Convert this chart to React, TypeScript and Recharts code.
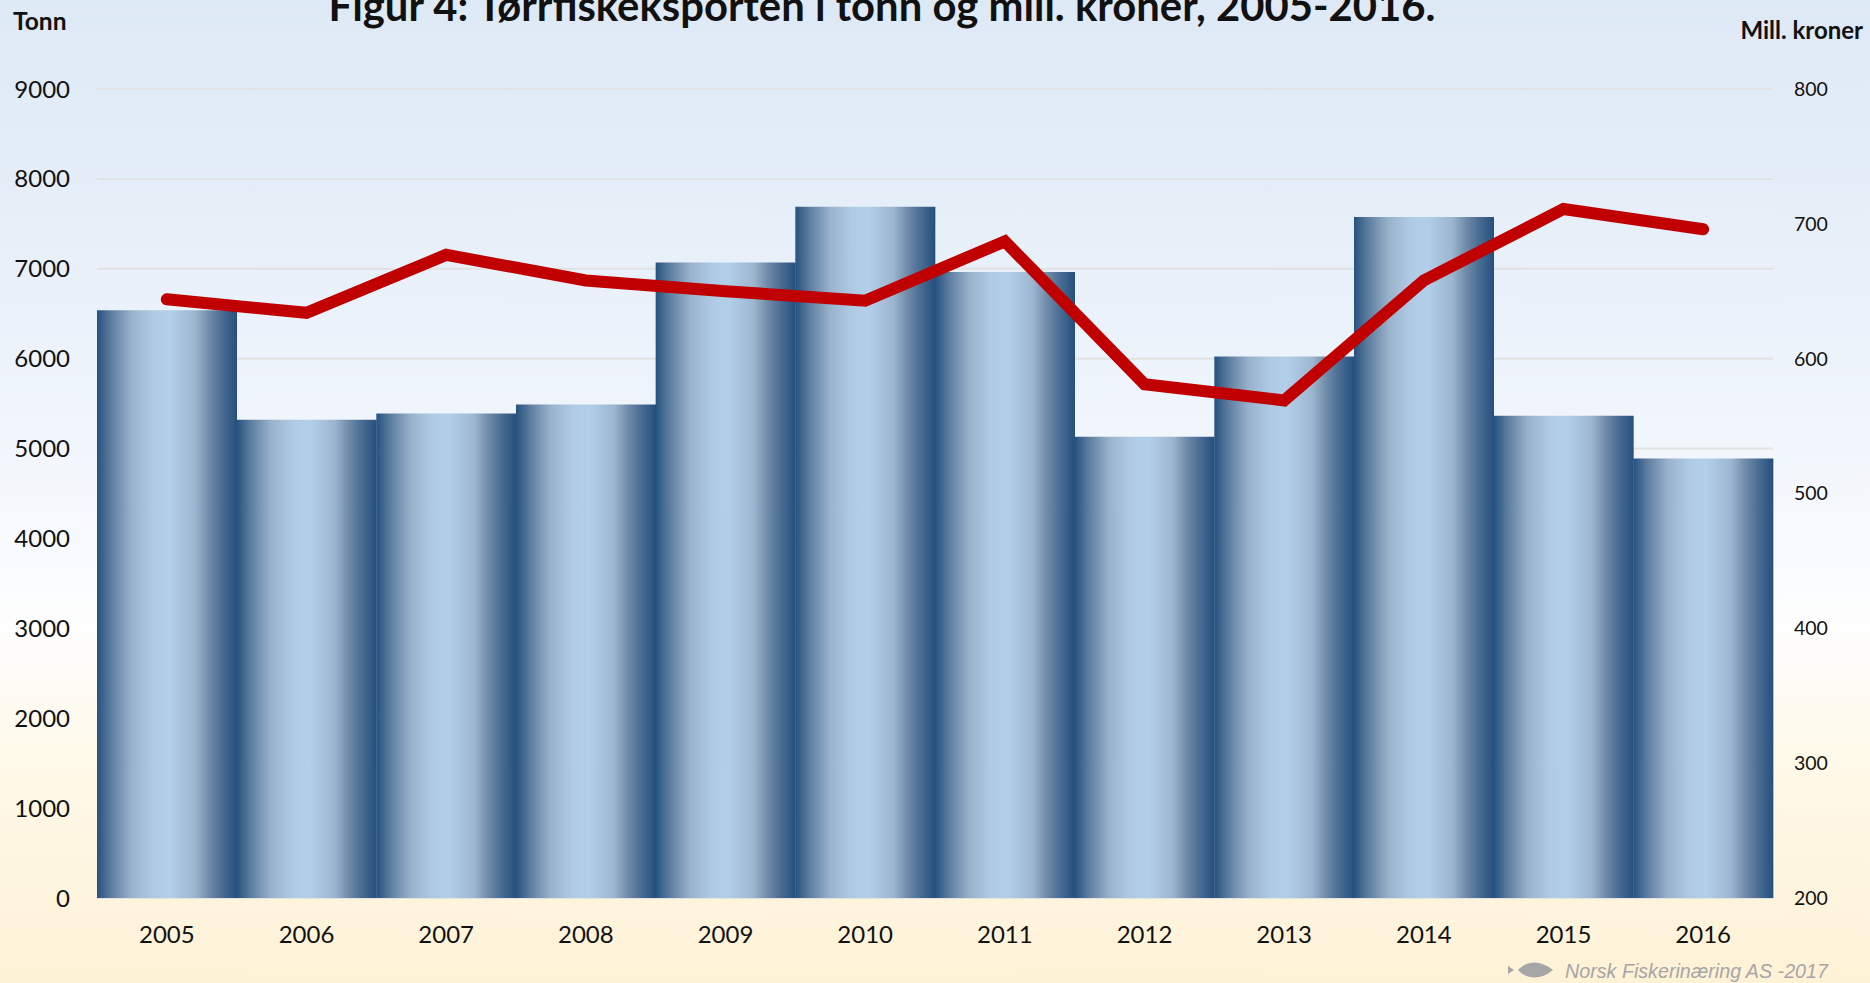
import React from 'react';
import { ComposedChart, Bar, Line, XAxis, YAxis, CartesianGrid } from 'recharts';

const years = ['2005', '2006', '2007', '2008', '2009', '2010', '2011', '2012', '2013', '2014', '2015', '2016'];
const tonn = [6540, 5320, 5390, 5490, 7070, 7690, 6965, 5130, 6025, 7575, 5365, 4890];
const millKroner = [644, 634, 677, 658, 650, 643, 687, 581, 569, 658, 711, 696];
const leftTicks = [0, 1000, 2000, 3000, 4000, 5000, 6000, 7000, 8000, 9000];
const rightTicks = [200, 300, 400, 500, 600, 700, 800];

const data = years.map((year, i) => ({ year, tonn: tonn[i], kroner: millKroner[i] }));

const FONT = 'Lato, sans-serif';

const App: React.FC = () => (
    <div
        style={{
            position: 'absolute',
            left: 0,
            top: 0,
            width: 1870,
            height: 983,
            overflow: 'hidden',
            fontFamily: FONT,
            color: '#111',
            background: 'linear-gradient(to bottom, #dde9f5 0%, #eaf1fa 30%, #f4f8fd 50%, #fefefe 64%, #fff9ea 76%, #fef2d6 100%)',
        }}
    >
        <ComposedChart
            width={1870}
            height={983}
            data={data}
            barCategoryGap={0}
            margin={{ top: 89, right: 0, bottom: 0, left: 0 }}
        >
            <defs>
                <linearGradient id="barFill" x1="0" y1="0" x2="1" y2="0">
                    <stop offset="0%" stopColor="#25527f" />
                    <stop offset="10%" stopColor="#5d7d9f" />
                    <stop offset="25%" stopColor="#9ab3cd" />
                    <stop offset="40%" stopColor="#afcae4" />
                    <stop offset="52%" stopColor="#b2cfea" />
                    <stop offset="70%" stopColor="#9db6d0" />
                    <stop offset="80%" stopColor="#6f8ba8" />
                    <stop offset="90%" stopColor="#476a92" />
                    <stop offset="100%" stopColor="#25507c" />
                </linearGradient>
            </defs>
            <CartesianGrid yAxisId="left" vertical={false} stroke="#e2e2e2" strokeWidth={2} />
            <XAxis
                dataKey="year"
                height={85}
                axisLine={false}
                tickLine={false}
                tickMargin={22}
                tick={{ fill: '#111', fontSize: 24, fontFamily: FONT }}
            />
            <YAxis
                yAxisId="left"
                width={97}
                domain={[0, 9000]}
                ticks={leftTicks}
                interval={0}
                axisLine={false}
                tickLine={false}
                tickMargin={21}
                tick={{ fill: '#111', fontSize: 24, fontFamily: FONT }}
            />
            <YAxis
                yAxisId="right"
                orientation="right"
                width={97}
                domain={[200, 800]}
                ticks={rightTicks}
                interval={0}
                axisLine={false}
                tickLine={false}
                tickMargin={15}
                tick={{ fill: '#111', fontSize: 19.5, fontFamily: FONT }}
            />
            <Bar yAxisId="left" dataKey="tonn" fill="url(#barFill)" isAnimationActive={false} />
            <Line
                yAxisId="right"
                dataKey="kroner"
                type="linear"
                stroke="#c00000"
                strokeWidth={12}
                strokeLinecap="round"
                strokeLinejoin="miter"
                dot={false}
                isAnimationActive={false}
            />
        </ComposedChart>

        <div style={{ position: 'absolute', left: 0, width: 1764, top: -20, textAlign: 'center', fontSize: 41.8, fontWeight: 700, whiteSpace: 'nowrap' }}>
            Figur 4: Tørrfiskeksporten i tonn og mill. kroner, 2005-2016.
        </div>
        <div style={{ position: 'absolute', left: 13, top: 6, fontSize: 24.5, fontWeight: 700 }}>Tonn</div>
        <div style={{ position: 'absolute', right: 7, top: 15, fontSize: 24, fontWeight: 700, whiteSpace: 'nowrap' }}>Mill. kroner</div>

        <svg style={{ position: 'absolute', left: 1507, top: 961 }} width={50} height={20}>
            <path d="M1 5 L7 9 L1 13 Z" fill="#a6a6a6" />
            <path d="M11 9 C20 -1 34 -1 46 9 C34 19 20 19 11 9 Z" fill="#a6a6a6" />
        </svg>
        <div style={{ position: 'absolute', left: 1565, top: 960, fontSize: 19.7, fontStyle: 'italic', fontFamily: '"Liberation Sans", sans-serif', color: '#a6a6a6', whiteSpace: 'nowrap' }}>
            Norsk Fiskerinæring AS -2017
        </div>
    </div>
);

export default App;
